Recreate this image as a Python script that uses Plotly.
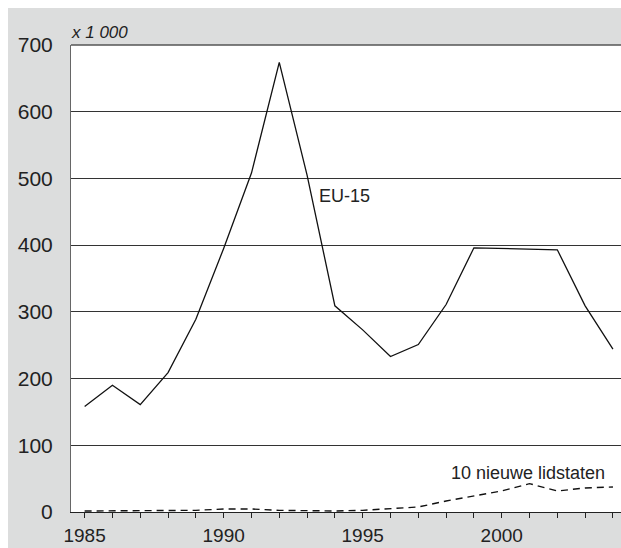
import plotly.graph_objects as go

years = list(range(1985, 2005))
eu15 = [158, 190, 161, 209, 289, 395, 508, 674, 505, 309, 273, 233, 251, 311,
        396, 395, 394, 393, 309, 244]
nieuw = [1.5, 1.5, 1.5, 1.5, 2.5, 4.5, 4.5, 2.5, 1.5, 1.5, 2.5, 5.5, 7.5, 16.5,
         24, 31.5, 42.5, 31.5, 36, 37.5]
y_ticks = [0, 100, 200, 300, 400, 500, 600, 700]
x_ticks = [1985, 1990, 1995, 2000]
label_eu15 = "EU-15"
label_nieuw = "10 nieuwe lidstaten"
unit_label = "x 1 000"

FONT = "Liberation Sans, Arial, Helvetica, sans-serif"
GRAY = "#dcdddd"

fig = go.Figure()
fig.add_trace(go.Scatter(x=years, y=eu15, mode="lines",
                         line=dict(color="#111111", width=1.3),
                         showlegend=False, hoverinfo="skip"))
fig.add_trace(go.Scatter(x=years, y=nieuw, mode="lines",
                         line=dict(color="#111111", width=1.4, dash="7px,5px"),
                         showlegend=False, hoverinfo="skip"))

fig.update_layout(
    width=613, height=540,
    margin=dict(l=63, r=0, t=37, b=36),
    paper_bgcolor=GRAY,
    plot_bgcolor="white",
    font=dict(family=FONT, color="#222222"),
    xaxis=dict(
        range=[1984.51, 2004.29],
        tickvals=x_ticks,
        ticktext=[str(v) for v in x_ticks],
        ticks="outside", ticklen=5, tickwidth=1, tickcolor="#222222",
        minor=dict(dtick=1, tick0=1985, ticks="outside", ticklen=5,
                   tickwidth=1, tickcolor="#222222", showgrid=False),
        showgrid=False, zeroline=False,
        showline=True, linecolor="#222222", linewidth=1,
        tickfont=dict(size=19, family=FONT, color="#222222"),
        ticklabelstandoff=1,
    ),
    yaxis=dict(
        range=[0, 700],
        tickvals=y_ticks,
        ticks="",
        showgrid=True, gridcolor="#333333", gridwidth=1,
        zeroline=False,
        showline=True, linecolor="#666666", linewidth=1,
        tickfont=dict(size=21, family=FONT, color="#222222"),
        ticklabelstandoff=13,
    ),
    shapes=[
        dict(type="line", xref="paper", yref="paper", x0=0, x1=1, y0=1, y1=1,
             line=dict(color="#555555", width=1.5), layer="above"),
    ],
    annotations=[
        dict(text=unit_label, xref="paper", yref="paper", x=-0.004, y=1.0278,
             xanchor="left", yanchor="middle", showarrow=False,
             font=dict(size=17, family=FONT, color="#222222", style="italic")),
        dict(text=label_eu15, xref="x", yref="y", x=1993.35, y=473,
             xanchor="left", yanchor="middle", showarrow=False,
             font=dict(size=18, family=FONT, color="#222222")),
        dict(text=label_nieuw, xref="x", yref="y", x=1998.1, y=59,
             xanchor="left", yanchor="middle", showarrow=False,
             font=dict(size=18, family=FONT, color="#222222")),
    ],
)

fig.write_html(
    "out.html",
    post_script="document.body.style.margin='8px 0 0 8px';"
                "document.documentElement.style.overflow='hidden';",
)
